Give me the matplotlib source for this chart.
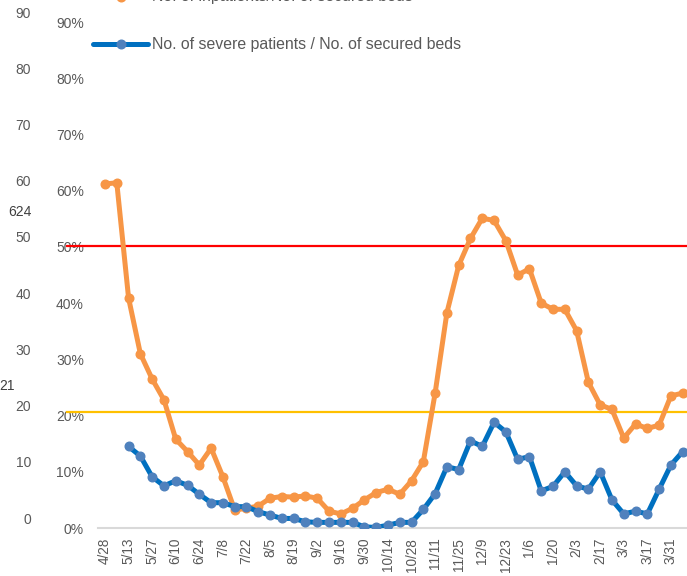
import numpy as np
import matplotlib
matplotlib.use("Agg")
import matplotlib.pyplot as plt
from matplotlib.lines import Line2D

plt.rcParams['font.family'] = ['Liberation Sans', 'DejaVu Sans']

tick_labels = ['4/28', '5/13', '5/27', '6/10', '6/24', '7/8', '7/22', '8/5', '8/19',
               '9/2', '9/16', '9/30', '10/14', '10/28', '11/11', '11/25', '12/9',
               '12/23', '1/6', '1/20', '2/3', '2/17', '3/3', '3/17', '3/31']

inpatients_pct = [61.2, 61.4, 40.9, 31.0, 26.5, 22.8, 15.8, 13.6, 11.2, 14.2,
                  9.1, 3.2, 3.5, 3.9, 5.3, 5.6, 5.5, 5.7, 5.3, 3.0,
                  2.5, 3.5, 5.0, 6.3, 6.9, 6.0, 8.4, 11.8, 24.0, 38.3,
                  46.7, 51.5, 55.1, 54.7, 51.1, 45.0, 46.1, 40.0, 38.9, 38.9,
                  35.1, 25.9, 21.9, 21.1, 16.0, 18.5, 17.7, 18.3, 23.5, 24.0]

severe_pct = [np.nan, np.nan, 14.5, 12.8, 9.1, 7.5, 8.4, 7.6, 6.0, 4.5,
              4.5, 3.8, 3.8, 2.9, 2.3, 1.7, 1.7, 1.1, 1.0, 1.0,
              1.0, 1.0, 0.2, 0.1, 0.5, 1.0, 1.0, 3.3, 6.1, 10.9,
              10.4, 15.5, 14.5, 18.8, 17.1, 12.2, 12.7, 6.6, 7.4, 10.0,
              7.5, 6.9, 10.0, 5.0, 2.5, 3.0, 2.5, 6.9, 11.2, 13.6]

red_level = 50.2
yellow_level = 20.6
left_ticks = [0, 10, 20, 30, 40, 50, 60, 70, 80, 90]
pct_ticks = [0, 10, 20, 30, 40, 50, 60, 70, 80, 90]
side_notes = [("624", 32, 212), ("21", 15, 386)]

W, H = 687, 576
PT = 100 / 72  # px per point
fig = plt.figure(figsize=(W / 100, H / 100), dpi=100)

px_per_week = 11.79
x0_px = 105
ax_left_px, ax_right_px = 98, 687
ax_bottom_px, ax_top_px = 528, 0
ax = fig.add_axes([ax_left_px / W, 1 - ax_bottom_px / H,
                   (ax_right_px - ax_left_px) / W, (ax_bottom_px - ax_top_px) / H])
xmin = (ax_left_px - x0_px) / px_per_week
xmax = (ax_right_px - x0_px) / px_per_week
ax.set_xlim(xmin, xmax)
px_per_pct = 5.622
ax.set_ylim(0, (ax_bottom_px - ax_top_px) / px_per_pct)

x = np.arange(len(inpatients_pct))
orange = '#F79646'
blue_line = '#0070C0'
blue_marker = '#4F81BD'

ax.plot(x, inpatients_pct, color=orange, lw=3.6, marker='o', ms=6.2,
        mfc=orange, mec=orange, solid_capstyle='round', zorder=3, clip_on=True)
ax.plot(x, severe_pct, color=blue_line, lw=3.6, marker='o', ms=6.2,
        mfc=blue_marker, mec=blue_marker, solid_capstyle='round', zorder=4)

ref_x0 = (67 - x0_px) / px_per_week
ax.plot([ref_x0, xmax], [red_level, red_level], color='#FF0000', lw=1.6,
        clip_on=False, zorder=2)
ax.plot([ref_x0, xmax], [yellow_level, yellow_level], color='#FFC000', lw=1.6,
        clip_on=False, zorder=2)

for s in ['top', 'right', 'left']:
    ax.spines[s].set_visible(False)
ax.spines['bottom'].set_color('#D9D9D9')
ax.spines['bottom'].set_linewidth(1.5)

ax.set_yticks(pct_ticks)
ax.set_yticklabels([f"{v}%" for v in pct_ticks])
ax.tick_params(axis='y', length=0, pad=14 / PT, labelsize=10, labelcolor='#595959')
ax.set_xticks(np.arange(0, 2 * len(tick_labels), 2))
ax.set_xticklabels(tick_labels, rotation=90)
ax.tick_params(axis='x', length=0, pad=7, labelsize=9.8, labelcolor='#595959')

# left (count) axis
ax2 = ax.twinx()
ax2.set_position(ax.get_position())
ax2.yaxis.tick_left()
ax2.set_ylim(-(ax_bottom_px - 518) / px_per_pct, 518 / px_per_pct)
ax2.set_yticks(left_ticks)
ax2.set_yticklabels([str(v) for v in left_ticks])
ax2.tick_params(axis='y', length=0, pad=(ax_left_px - 31) / PT, labelsize=10,
                labelcolor='#595959')
for s in ax2.spines.values():
    s.set_visible(False)

for txt, xr, ypx in side_notes:
    fig.text(xr / W, 1 - ypx / H, txt, ha='right', va='center', fontsize=10,
             color='#404040')

# legend
def legend_entry(ypx, lc, mc, label):
    fig.add_artist(Line2D([93 / W, 148 / W], [1 - ypx / H] * 2, color=lc, lw=3.6,
                          solid_capstyle='round', transform=fig.transFigure))
    fig.add_artist(Line2D([121 / W], [1 - ypx / H], marker='o', ms=6.2, mfc=mc,
                          mec=mc, transform=fig.transFigure))
    fig.text(152 / W, 1 - ypx / H, label, ha='left', va='center', fontsize=11.4,
             color='#595959')

legend_entry(-3, orange, orange, "No. of inpatients/No. of secured beds")
legend_entry(44, blue_line, blue_marker, "No. of severe patients / No. of secured beds")

fig.savefig("out.png", dpi=100)
